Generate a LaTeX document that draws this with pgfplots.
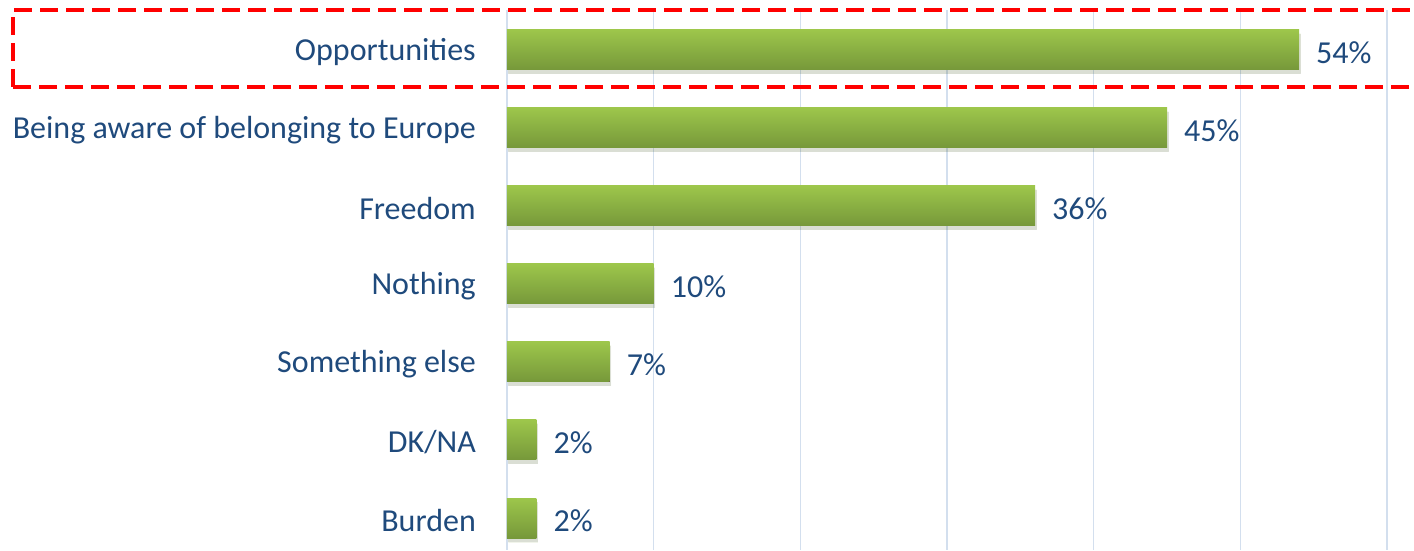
\documentclass[border=0pt]{standalone}
\usepackage{pgfplots}
\pgfplotsset{compat=1.18}
\usepackage{fontspec}
\setmainfont{Carlito}
\definecolor{txt}{HTML}{1F4A7C}
\definecolor{gtop}{HTML}{9DC64B}
\definecolor{gbot}{HTML}{76983A}
\definecolor{gridc}{HTML}{D3DFEE}
\begin{document}
\begin{tikzpicture}[x=1pt,y=1pt]
\begin{axis}[
  at={(507pt,0pt)}, anchor=south west,
  scale only axis, width=880pt, height=540pt,
  xbar, bar width=40pt, bar shift=0pt,
  xmin=0, xmax=60, ymin=-0.51, ymax=6.41, y dir=reverse,
  enlargelimits=false,
  axis line style={draw=none}, major tick length=0,
  xtick={0,10,...,60}, xticklabels={},
  xmajorgrids, grid style={color=gridc, line width=1.5pt},
  ytick={0,...,6},
  yticklabels={Opportunities, Being aware of belonging to Europe, Freedom, Nothing, Something else, DK/NA, Burden},
  yticklabel style={font=\fontsize{32}{38}\selectfont, text=txt, inner sep=0pt, xshift=-31pt, yshift=-2.5pt},
  /pgf/number format/assume math mode=true,
  nodes near coords={\pgfmathprintnumber{\pgfplotspointmeta}\%},
  nodes near coords style={font=\fontsize{32}{38}\selectfont, text=txt, anchor=west, inner sep=0pt, xshift=17pt, yshift=-2.5pt},
  point meta=x,
  every axis plot/.append style={draw=none, top color=gtop, bottom color=gbot,
    preaction={fill=black, opacity=0.10, transform canvas={yshift=-4pt, xshift=1.5pt}}},
]
\addplot coordinates {(54,0)};
\addplot coordinates {(45,1)};
\addplot coordinates {(36,2)};
\addplot coordinates {(10,3)};
\addplot coordinates {(7,4)};
\addplot coordinates {(2,5)};
\addplot coordinates {(2,6)};
\end{axis}
\draw[red, line width=4pt, dash pattern=on 18pt off 8pt] (13pt,463pt) rectangle (1440pt,540pt);
\pgfresetboundingbox
\useasboundingbox (0,0) rectangle (1414pt,550pt);
\end{tikzpicture}
\end{document}
